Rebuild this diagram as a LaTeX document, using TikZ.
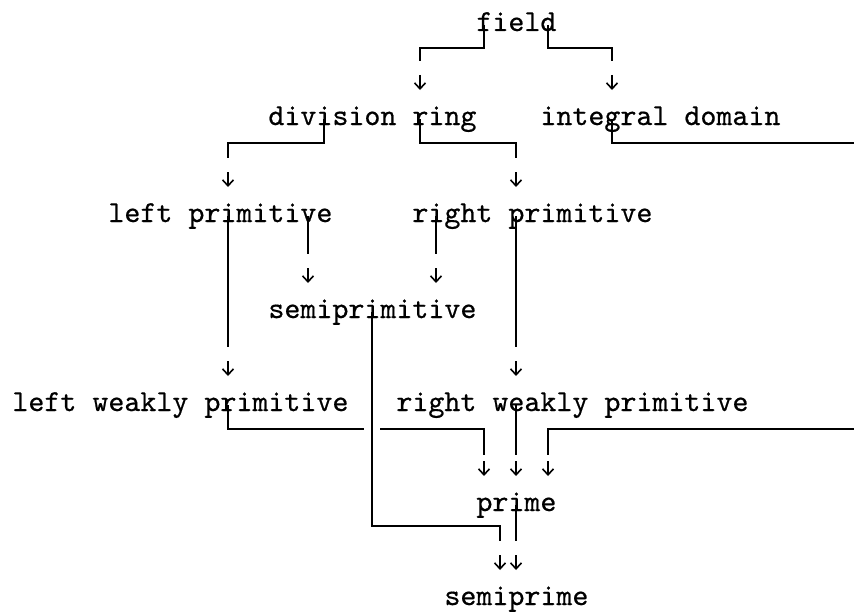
\documentclass[tikz,border=0pt]{standalone}
\usepackage{fontspec}
\usetikzlibrary{calc,backgrounds,arrows.meta}

\newfontfamily\typewriter{lmmono10-regular.otf}[FakeBold=0.6]

\tikzset{
  word/.style={anchor=base west, inner sep=0pt, font=\fontsize{15.24}{18}\selectfont\typewriter},
  wire/.style={line width=1pt},
  tip/.style={line width=0.8pt, -{Straight Barb[length=3pt,width=5.5pt]}},
}

\begin{document}
\begin{tikzpicture}[x=0.5pt, y=-0.5pt]
 \useasboundingbox (0,0) rectangle (854,615);
 \clip (0,0) rectangle (854,615);

 % the names, one typewriter cell = 16
 \node[word] (field) at (476,31) {field};
 \node[word] (divring) at (268,125) {division ring};
 \node[word] (intdom) at (540,125) {integral domain};
 \node[word] (lprim) at (108,222) {left primitive};
 \node[word] (rprim) at (412,222) {right primitive};
 \node[word] (semiprim) at (268,318) {semiprimitive};
 \node[word] (lweak) at (12,411) {left weakly primitive};
 \node[word] (rweak) at (396,411) {right weakly primitive};
 \node[word] (prime) at (476,511) {prime};
 \node[word] (semiprime) at (444,605) {semiprime};

 \begin{scope}[on background layer]
 % field
 \draw[wire] ($(field.base west)+(8,-6)$) -- ++(0,23) -| ($(divring.base west)+(152,-64)$);
 \draw[wire] ($(field.base west)+(72,-6)$) -- ++(0,23) -| ($(intdom.base west)+(72,-64)$);
 % division ring
 \draw[wire] ($(divring.base west)+(56,-6)$) -- ++(0,24) -| ($(lprim.base west)+(120,-64)$);
 \draw[wire] ($(divring.base west)+(152,-6)$) -- ++(0,24) -| ($(rprim.base west)+(104,-64)$);
 % integral domain runs out to the right and comes back to prime
 \draw[wire] ($(intdom.base west)+(72,-6)$) -- ++(0,24) -- ++(300,0) |- ($(prime.base west)+(72,-82)$) -- ++(0,26);
 % primitive
 \draw[wire] ($(lprim.base west)+(120,-6)$) -- ($(lweak.base west)+(216,-64)$);
 \draw[wire] ($(lprim.base west)+(200,-6)$) -- ($(semiprim.base west)+(40,-64)$);
 \draw[wire] ($(rprim.base west)+(24,-6)$) -- ($(semiprim.base west)+(168,-64)$);
 \draw[wire] ($(rprim.base west)+(104,-6)$) -- ($(rweak.base west)+(120,-64)$);
 % weakly primitive
 \draw[wire] ($(lweak.base west)+(216,-6)$) -- ++(0,24) -| ($(prime.base west)+(8,-56)$);
 \draw[wire] ($(rweak.base west)+(120,-6)$) -- ($(prime.base west)+(40,-56)$);
 % semiprimitive, cutting through the line above
 \draw[wire, preaction={draw=white, line width=8pt}] ($(semiprim.base west)+(104,-6)$) -- ++(0,214) -| ($(semiprime.base west)+(56,-64)$);
 % prime
 \draw[wire] ($(prime.base west)+(40,-6)$) -- ($(semiprime.base west)+(72,-64)$);
 \end{scope}

 % arrow heads over the names
 \draw[tip] ($(divring.base west)+(152,-50)$) -- ++(0,15);
 \draw[tip] ($(intdom.base west)+(72,-50)$) -- ++(0,15);
 \draw[tip] ($(lprim.base west)+(120,-50)$) -- ++(0,15);
 \draw[tip] ($(rprim.base west)+(104,-50)$) -- ++(0,15);
 \draw[tip] ($(semiprim.base west)+(40,-50)$) -- ++(0,15);
 \draw[tip] ($(semiprim.base west)+(168,-50)$) -- ++(0,15);
 \draw[tip] ($(lweak.base west)+(216,-50)$) -- ++(0,15);
 \draw[tip] ($(rweak.base west)+(120,-50)$) -- ++(0,15);
 \draw[tip] ($(prime.base west)+(8,-50)$) -- ++(0,15);
 \draw[tip] ($(prime.base west)+(40,-50)$) -- ++(0,15);
 \draw[tip] ($(prime.base west)+(72,-50)$) -- ++(0,15);
 \draw[tip] ($(semiprime.base west)+(56,-50)$) -- ++(0,15);
 \draw[tip] ($(semiprime.base west)+(72,-50)$) -- ++(0,15);
\end{tikzpicture}
\end{document}
